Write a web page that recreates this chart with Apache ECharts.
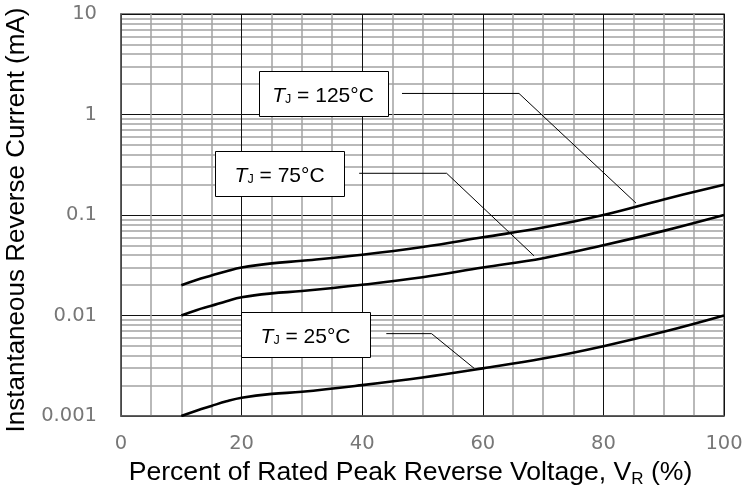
<!DOCTYPE html>
<html>
<head>
<meta charset="utf-8">
<script src="https://cdn.jsdelivr.net/npm/echarts@6/dist/echarts.min.js"></script>
<style>
html,body{margin:0;padding:0;background:#fff;}
#c{width:745px;height:491px;}
</style>
</head>
<body>
<div id="c"></div>
<script>
// ---- data ----
const xValues = [10, 12.5, 15, 17.5, 20, 25, 30, 40, 50, 60, 70, 80, 90, 100];
const tj125 = [0.02, 0.0226, 0.0250, 0.0276, 0.030, 0.0330, 0.0350, 0.0402, 0.0480, 0.060, 0.0750, 0.100, 0.143, 0.200];
const tj75  = [0.01, 0.0113, 0.0125, 0.0139, 0.0152, 0.0166, 0.0175, 0.0202, 0.0240, 0.030, 0.0372, 0.050, 0.0695, 0.100];
const tj25  = [0.001, 0.00113, 0.00126, 0.00140, 0.00152, 0.00166, 0.00174, 0.00203, 0.00242, 0.00298, 0.00373, 0.00495, 0.00688, 0.0100];
const xTickLabels = ['0', '20', '40', '60', '80', '100'];
const yTickValues = [0.001, 0.01, 0.1, 1, 10];
const yTickLabels = ['0.001', '0.01', '0.1', '1', '10'];
const seriesNames = ['125°C', '75°C', '25°C'];
// annotation box centres and leader lines (data coordinates)
const boxCenters = [[33.5, 1.62], [26.3, 0.26], [30.6, 0.0065]];
const leader125 = [[46.6, 1.62], [66.0, 1.62], [85.4, 0.1315]];
const leader75  = [[39.5, 0.26], [54.0, 0.26], [68.5, 0.0392]];
const leader25  = [[44.0, 0.0066], [51.5, 0.0066], [58.6, 0.00297]];

const chart = echarts.init(document.getElementById('c'), null, {renderer: 'canvas'});
const pair = (xs, ys) => xs.map((x, i) => [x, ys[i]]);

const curveStyle = {color: '#000', width: 2.6};
const leaderStyle = {color: '#000', width: 1};

const option = {
  animation: false,
  backgroundColor: '#fff',
  grid: {left: 121, right: 21, top: 14, bottom: 75, show: true, borderColor: '#5a5a5a', borderWidth: 1.5, outerBoundsMode: 'none', containLabel: false},
  xAxis: {
    type: 'value', min: 0, max: 100, interval: 20,
    axisLine: {show: true, lineStyle: {color: '#5a5a5a', width: 1.5}},
    axisTick: {show: false},
    axisLabel: {
      margin: 18, color: '#777', fontSize: 19.5, fontFamily: 'DejaVu Sans',
      formatter: v => xTickLabels[Math.round(v / 20)] ?? ''
    },
    splitLine: {show: true, lineStyle: {color: '#111', width: 1}},
    minorTick: {show: false, splitNumber: 4},
    minorSplitLine: {show: true, lineStyle: {color: '#a3a3a3', width: 1.5}},
    name: 'Percent of Rated Peak Reverse Voltage, V{sub|R} (%)',
    nameLocation: 'middle', nameGap: 41,
    nameTextStyle: {
      fontSize: 26.6, fontFamily: 'Liberation Sans', color: '#000', padding: [0, 24, 0, 0],
      rich: {sub: {fontSize: 17, fontFamily: 'Liberation Sans', color: '#000', verticalAlign: 'bottom', padding: [0, 0, -2, 0]}}
    }
  },
  yAxis: {
    type: 'log', logBase: 10, min: 0.001, max: 10,
    axisLine: {show: true, lineStyle: {color: '#5a5a5a', width: 1.5}},
    axisTick: {show: false},
    axisLabel: {
      margin: 24, color: '#777', fontSize: 19.5, fontFamily: 'DejaVu Sans',
      formatter: v => {
        const i = yTickValues.findIndex(t => Math.abs(Math.log10(t) - Math.log10(v)) < 1e-6);
        return i >= 0 ? yTickLabels[i] : '';
      }
    },
    splitLine: {show: true, lineStyle: {color: '#111', width: 1}},
    minorTick: {show: false, splitNumber: 9},
    minorSplitLine: {show: true, lineStyle: {color: '#a3a3a3', width: 1.5}},
    name: 'Instantaneous Reverse Current (mA)',
    nameLocation: 'middle', nameGap: 85,
    nameTextStyle: {fontSize: 26, fontFamily: 'Liberation Sans', color: '#000', padding: [0, 10, 0, 0]}
  },
  series: [
    {name: seriesNames[0], type: 'line', smooth: 0.4, symbol: 'none', data: pair(xValues, tj125), lineStyle: curveStyle, z: 5},
    {name: seriesNames[1], type: 'line', smooth: 0.4, symbol: 'none', data: pair(xValues, tj75), lineStyle: curveStyle, z: 5},
    {name: seriesNames[2], type: 'line', smooth: 0.4, symbol: 'none', data: pair(xValues, tj25), lineStyle: curveStyle, z: 5},
    {type: 'line', silent: true, symbol: 'none', data: leader125, lineStyle: leaderStyle, z: 4},
    {type: 'line', silent: true, symbol: 'none', data: leader75, lineStyle: leaderStyle, z: 4},
    {type: 'line', silent: true, symbol: 'none', data: leader25, lineStyle: leaderStyle, z: 4}
  ]
};
chart.setOption(option);

// annotation boxes placed at data coordinates
const boxW = 129, boxH = 45;
const graphics = [];
boxCenters.forEach((c, i) => {
  const p = chart.convertToPixel({gridIndex: 0}, c);
  graphics.push({
    type: 'rect', z: 10,
    shape: {x: Math.round(p[0] - boxW / 2) + 0.5, y: Math.round(p[1] - boxH / 2) + 0.5, width: boxW, height: boxH},
    style: {fill: '#fff', stroke: '#000', lineWidth: 1}
  });
  graphics.push({
    type: 'text', z: 11,
    x: p[0], y: p[1] + 1,
    style: {
      text: '{t|T}{j|J}{n| = ' + seriesNames[i] + '}',
      align: 'center', verticalAlign: 'middle',
      rich: {
        t: {fontSize: 21, fontFamily: 'Liberation Sans', fontStyle: 'italic', fill: '#000', verticalAlign: 'bottom', lineHeight: 24},
        j: {fontSize: 12.5, fontFamily: 'Liberation Sans', fill: '#000', verticalAlign: 'bottom', lineHeight: 20},
        n: {fontSize: 21, fontFamily: 'Liberation Sans', fill: '#000', verticalAlign: 'bottom', lineHeight: 24}
      }
    }
  });
});
chart.setOption({graphic: graphics});
</script>
</body>
</html>
